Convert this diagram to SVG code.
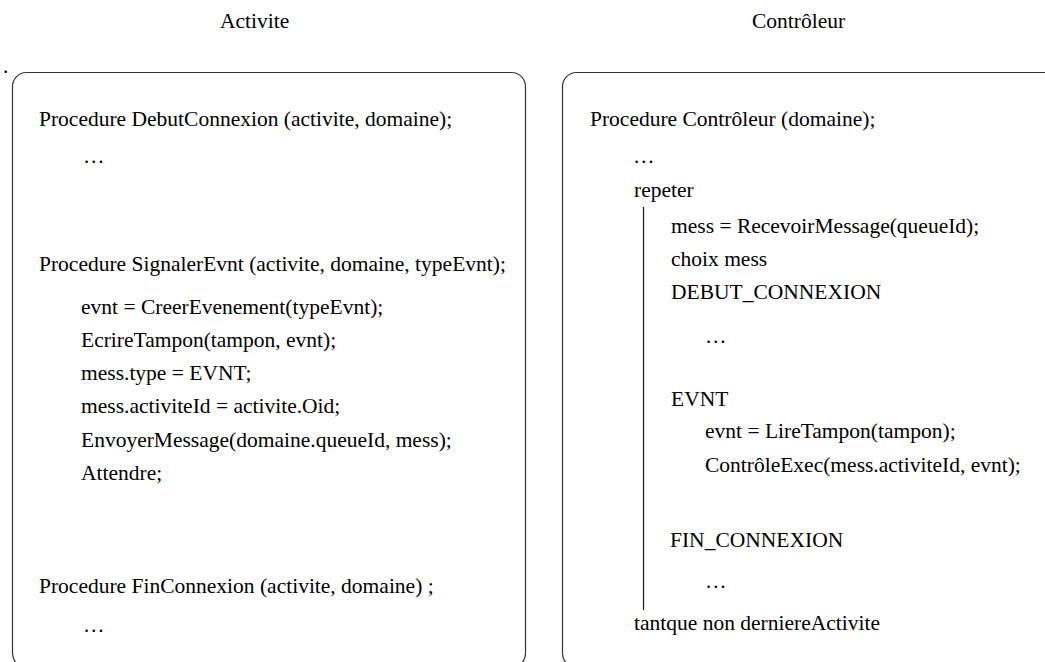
<svg xmlns="http://www.w3.org/2000/svg" width="1045" height="662" viewBox="0 0 1045 662">
  <style>
    text { font-family: "Liberation Serif", "Times New Roman", serif; font-size: 21.5px; fill: #000; }
    .frame { fill: none; stroke: #333; stroke-width: 1.2; }
    .bar { stroke: #111; stroke-width: 1.2; }
  </style>
  <rect width="1045" height="662" fill="#fff"/>

  <!-- column headings -->
  <g id="titles">
    <text x="220" y="28">Activite</text>
    <text x="752" y="28">Contrôleur</text>
    <text x="3" y="73">.</text>
  </g>

  <!-- client-side procedures -->
  <g id="activite">
    <rect class="frame" x="12.5" y="72.5" width="513" height="595" rx="14" ry="14"/>
    <text x="39" y="126">Procedure DebutConnexion (activite, domaine);</text>
    <text x="83" y="163">…</text>
    <text x="39" y="271">Procedure SignalerEvnt (activite, domaine, typeEvnt);</text>
    <text x="81" y="314">evnt = CreerEvenement(typeEvnt);</text>
    <text x="81" y="347">EcrireTampon(tampon, evnt);</text>
    <text x="81" y="380">mess.type = EVNT;</text>
    <text x="81" y="413">mess.activiteId = activite.Oid;</text>
    <text x="81" y="447">EnvoyerMessage(domaine.queueId, mess);</text>
    <text x="81" y="480">Attendre;</text>
    <text x="39" y="593">Procedure FinConnexion (activite, domaine) ;</text>
    <text x="83" y="632">…</text>
  </g>

  <!-- controller loop -->
  <g id="controleur">
    <rect class="frame" x="562.5" y="72.5" width="600" height="595" rx="14" ry="14"/>
    <text x="590" y="126">Procedure Contrôleur (domaine);</text>
    <text x="633" y="163">…</text>
    <text x="634" y="197">repeter</text>
    <line class="bar" x1="643.5" y1="207" x2="643.5" y2="610"/>
    <text x="671" y="233">mess = RecevoirMessage(queueId);</text>
    <text x="671" y="266">choix mess</text>
    <text x="671" y="299">DEBUT_CONNEXION</text>
    <text x="705" y="343">…</text>
    <text x="671" y="406">EVNT</text>
    <text x="705" y="438">evnt = LireTampon(tampon);</text>
    <text x="705" y="472">ContrôleExec(mess.activiteId, evnt);</text>
    <text x="670" y="547">FIN_CONNEXION</text>
    <text x="705" y="588">…</text>
    <text x="634" y="630">tantque non derniereActivite</text>
  </g>

  <g id="connectors"/>
</svg>
